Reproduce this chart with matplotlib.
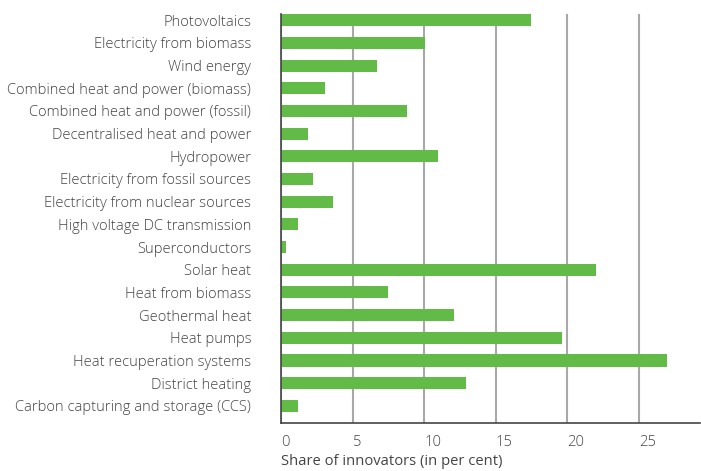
import matplotlib
matplotlib.use("Agg")
import matplotlib.pyplot as plt

categories = [
    "Photovoltaics",
    "Electricity from biomass",
    "Wind energy",
    "Combined heat and power (biomass)",
    "Combined heat and power (fossil)",
    "Decentralised heat and power",
    "Hydropower",
    "Electricity from fossil sources",
    "Electricity from nuclear sources",
    "High voltage DC transmission",
    "Superconductors",
    "Solar heat",
    "Heat from biomass",
    "Geothermal heat",
    "Heat pumps",
    "Heat recuperation systems",
    "District heating",
    "Carbon capturing and storage (CCS)",
]
values = [17.5, 10.05, 6.7, 3.1, 8.8, 1.9, 11.0, 2.2, 3.6, 1.17,
          0.33, 22.0, 7.5, 12.1, 19.6, 27.0, 12.9, 1.2]
xticks = [0, 5, 10, 15, 20, 25]

plt.rcParams['font.family'] = ['Open Sans', 'DejaVu Sans']
plt.rcParams['font.weight'] = 300

fig = plt.figure(figsize=(7.01, 4.71), dpi=100)
ax = fig.add_axes([0.401, 0.1026, 0.598, 0.8674])

ypos = list(range(len(categories)))
ax.barh(ypos, values, height=0.53, color='#62bb46', zorder=3)

ax.set_ylim(17.74, -0.265)
ax.set_xlim(0, 29.3)
ax.set_yticks(ypos)
ax.set_yticklabels(categories)
ax.set_xticks(xticks)
ax.tick_params(length=0, colors='#444444', labelsize=10.6)
ax.tick_params(axis='y', pad=21.5)
ax.tick_params(axis='x', pad=9)
for lbl in ax.get_xticklabels():
    lbl.set_horizontalalignment('left')

ax.grid(axis='x', color='#a8a8a8', linewidth=1.5, zorder=0)
for s in ['top', 'right']:
    ax.spines[s].set_visible(False)
for s in ['left', 'bottom']:
    ax.spines[s].set_color('#444444')
    ax.spines[s].set_linewidth(1.2)
    ax.spines[s].set_zorder(4)

ax.set_xlabel("Share of innovators (in per cent)", color='#444444',
              fontsize=10.6, loc='left', labelpad=3)

fig.savefig("out.png", dpi=100)
